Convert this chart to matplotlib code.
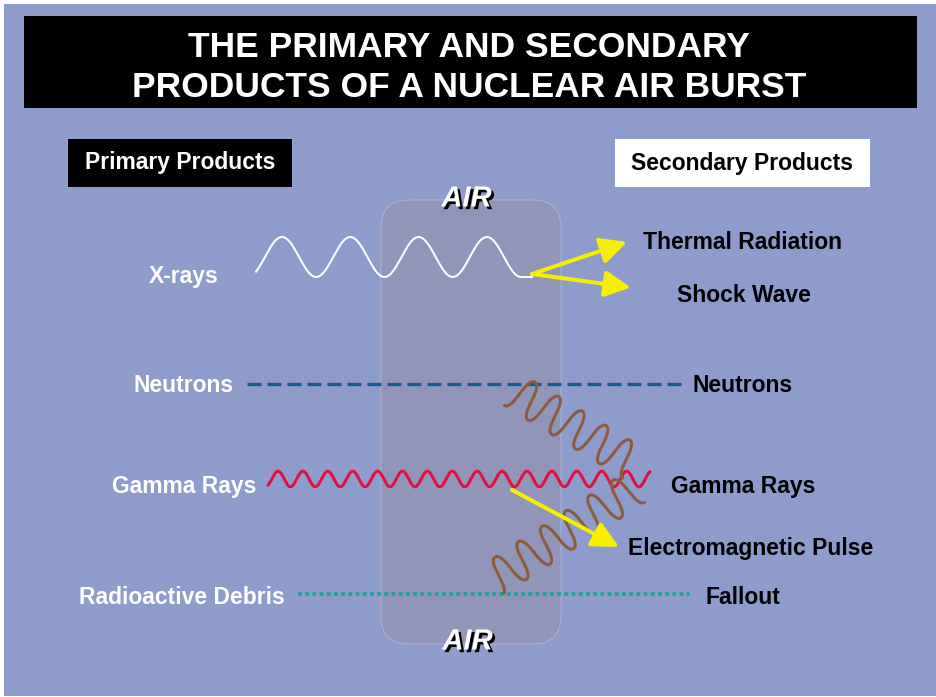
import numpy as np
import matplotlib
matplotlib.use("Agg")
import matplotlib.pyplot as plt
import matplotlib.patheffects as pe
from matplotlib.patches import FancyBboxPatch, Rectangle

plt.rcParams['font.family'] = ['Liberation Sans', 'DejaVu Sans']

# ---- content ----
title_lines = ["THE PRIMARY AND SECONDARY", "PRODUCTS OF A NUCLEAR AIR BURST"]
primary_header = "Primary Products"
secondary_header = "Secondary Products"
primary_labels = ["X-rays", "Neutrons", "Gamma Rays", "Radioactive Debris"]
primary_label_x = [183.5, 183.3, 183.8, 181.7]
primary_label_y = [283, 392, 493, 604]
secondary_labels = ["Thermal Radiation", "Shock Wave", "Neutrons", "Gamma Rays",
                    "Electromagnetic Pulse", "Fallout"]
secondary_label_x = [643, 677, 693, 671, 628, 706]
secondary_label_y = [249, 302.5, 392, 493, 555, 603.5]

# wave parameters
xray_wave = dict(x0=256, x1=521, crest_x=282, period=68.3, center=257, amp=20)
gamma_wave = dict(x0=268, x1=650, crest_x=278, period=24.9, center=479, amp=7.8)
brown_waves = [
    dict(cx=525.6, cy=397.4, ux=0.853, uy=0.522, s0=-13.9, s1=125.1, period=27.8, amp=18),
    dict(cx=504.8, cy=572.1, ux=0.837, uy=-0.546, s0=-13.0, s1=155.1, period=28.2, amp=18),
]
brown_round = 1.4
neutron_line = dict(x0=247, x1=683, y=383.5)
debris_line = dict(x0=298, x1=690, y=594)
arrows = [((532, 274), (627, 242)), ((532, 274), (631, 287.5)), ((512, 490), (619, 547))]

BG = '#8E9CCB'
W, H = 937, 697

fig = plt.figure(figsize=(W / 100, H / 100), dpi=100)
fig.patch.set_facecolor('white')
ax = fig.add_axes([0, 0, 1, 1])
ax.set_xlim(0, W)
ax.set_ylim(H, 0)
ax.axis('off')

def px(v):
    return v * 0.72

ax.add_patch(Rectangle((4, 4), W - 4, H - 5, facecolor=BG, edgecolor='none', zorder=0))

# title box
ax.add_patch(Rectangle((24, 16), 893, 92, facecolor='black', edgecolor='none', zorder=1))
for line, yb in zip(title_lines, [57, 97]):
    ax.text(469, yb, line, color='white', fontsize=25.5, fontweight='bold',
            ha='center', va='baseline', zorder=2)

# headers
ax.add_patch(Rectangle((68, 139), 224, 47.5, facecolor='black', edgecolor='none', zorder=1))
ax.text(180, 169, primary_header, color='white', fontsize=16.5, fontweight='bold',
        ha='center', va='baseline', zorder=2)
ax.add_patch(Rectangle((615, 139), 255, 47.5, facecolor='white', edgecolor='none', zorder=1))
ax.text(742, 170, secondary_header, color='black', fontsize=16.5, fontweight='bold',
        ha='center', va='baseline', zorder=2)

# air column
ax.add_patch(FancyBboxPatch((381 + 28, 200 + 28), 180 - 56, 444 - 56,
                            boxstyle="round,pad=28", facecolor='#9196B9',
                            edgecolor='#A9AED2', linewidth=0.8, zorder=1))

shadow = [pe.SimplePatchShadow(offset=(1.9, -1.9), shadow_rgbFace='black', alpha=1.0),
          pe.Normal()]
for x, yb in [(466.5, 206.5), (467.5, 649.5)]:
    ax.text(x, yb, "AIR", color='white', fontsize=21, fontweight='bold',
            fontstyle='italic', ha='center', va='baseline', zorder=9,
            path_effects=shadow)

# neutrons dashed
lw_n = px(3.3)
ax.plot([neutron_line['x0'], neutron_line['x1']], [neutron_line['y']] * 2,
        color='#145B8F', lw=lw_n, ls=(0, (px(14) / lw_n, px(6) / lw_n)),
        solid_capstyle='butt', dash_capstyle='butt', zorder=3)

# debris dotted
lw_d = px(3.6)
ax.plot([debris_line['x0'], debris_line['x1']], [debris_line['y']] * 2,
        color='#19A697', lw=lw_d, ls=(0, (px(3.8) / lw_d, px(3.4) / lw_d)),
        dash_capstyle='butt', zorder=3)

# gamma red wave
gx = np.linspace(gamma_wave['x0'], gamma_wave['x1'], 1200)
gy = gamma_wave['center'] - gamma_wave['amp'] * np.cos(2 * np.pi * (gx - gamma_wave['crest_x']) / gamma_wave['period'])
ax.plot(gx, gy, color='#E2103C', lw=px(3), zorder=4, solid_capstyle='round')

# x-ray white wave
xx = np.linspace(xray_wave['x0'], xray_wave['x1'], 800)
xy = xray_wave['center'] - xray_wave['amp'] * np.cos(2 * np.pi * (xx - xray_wave['crest_x']) / xray_wave['period'])
xx = np.append(xx, 532)
xy = np.append(xy, xy[-1])
ax.plot(xx, xy, color='white', lw=px(2), zorder=4)

# brown waves
for bw in brown_waves:
    s = np.linspace(bw['s0'], bw['s1'], 1200)
    ph = 2 * np.pi * s / bw['period']
    off = -bw['amp'] * np.cos(ph)
    along = s + brown_round * np.sin(2 * ph)
    nx, ny = -bw['uy'], bw['ux']
    if ny < 0:
        nx, ny = -nx, -ny
    bx = bw['cx'] + along * bw['ux'] + off * nx
    by = bw['cy'] + along * bw['uy'] + off * ny
    ax.plot(bx, by, color='#8C5C3C', lw=px(3), zorder=5, solid_capstyle='round')

# yellow arrows
for (tail, tip) in arrows:
    ax.annotate("", xy=tip, xytext=tail,
                arrowprops=dict(arrowstyle='-|>,head_length=1.6,head_width=0.8',
                                mutation_scale=10, color='#F6F000', lw=px(4),
                                shrinkA=0, shrinkB=0),
                zorder=6)

# labels
for t, x, y in zip(primary_labels, primary_label_x, primary_label_y):
    ax.text(x, y, t, color='white', fontsize=16.5, fontweight='bold',
            ha='center', va='baseline', zorder=7)
for t, x, y in zip(secondary_labels, secondary_label_x, secondary_label_y):
    ax.text(x, y, t, color='black', fontsize=16.5, fontweight='bold',
            ha='left', va='baseline', zorder=7)

fig.savefig('out.png', dpi=100, facecolor='white')
